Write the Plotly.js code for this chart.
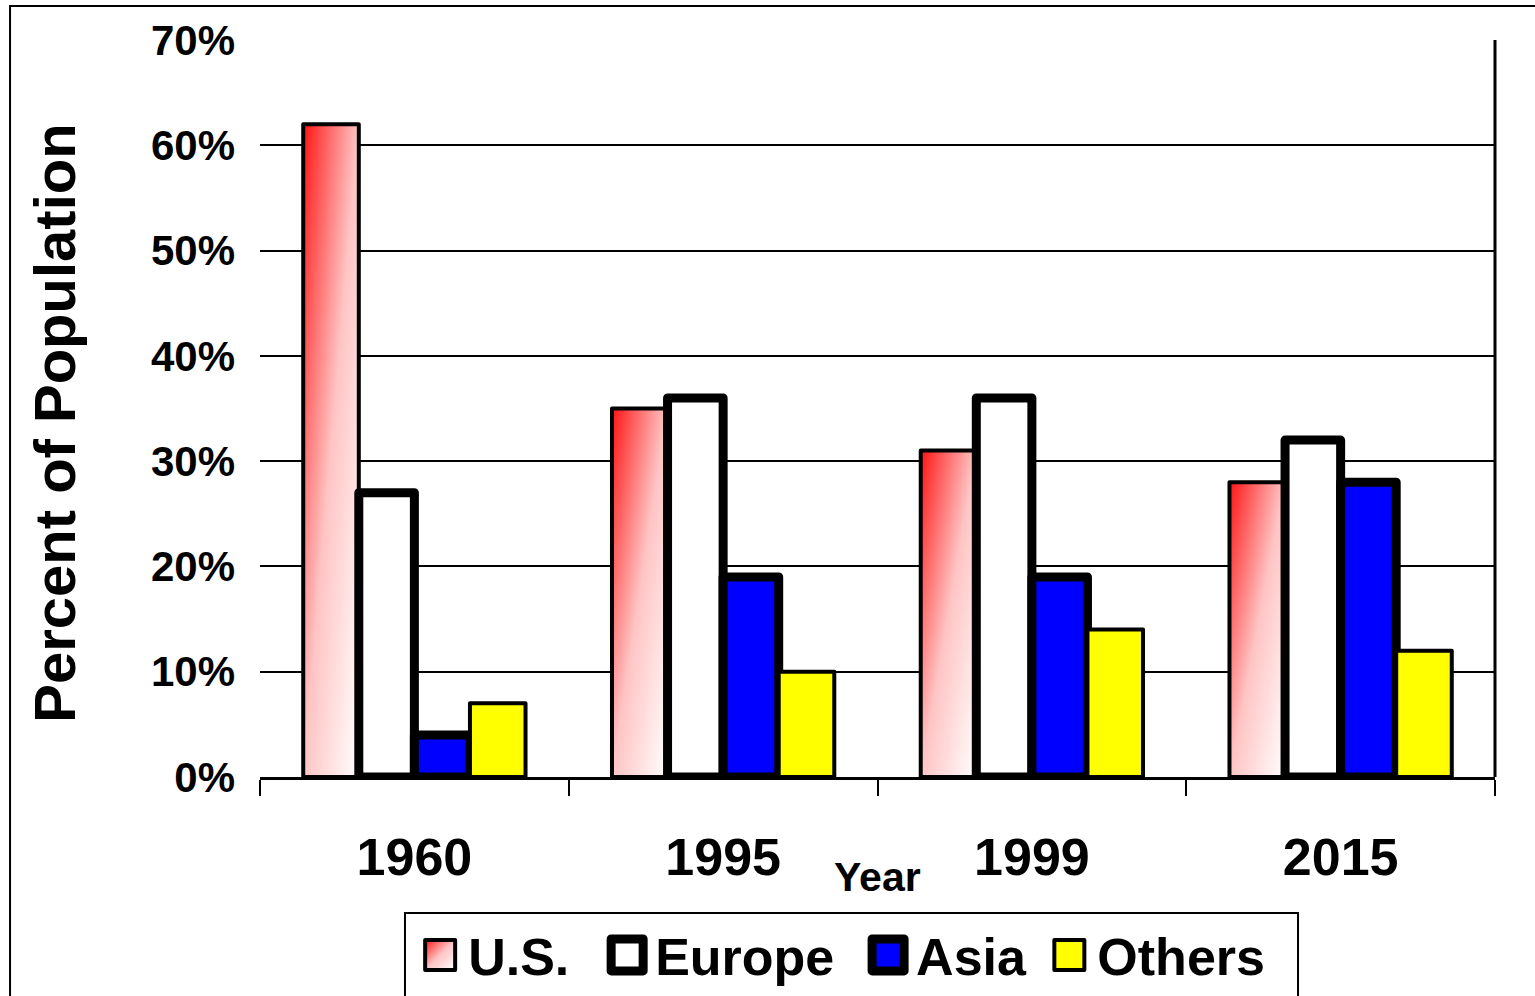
<!DOCTYPE html>
<html><head><meta charset="utf-8">
<script src="https://cdn.plot.ly/plotly-3.0.1.min.js"></script>
<style>html,body{margin:0;padding:0;background:#fff;} #chart{width:1535px;height:996px;}</style>
</head><body>
<svg width="0" height="0" style="position:absolute;left:0;top:0">
<defs><linearGradient id="usGrad" x1="0" y1="0" x2="1" y2="1">
<stop offset="0" stop-color="#ff1414"/><stop offset="0.5" stop-color="#ffc4c4"/><stop offset="1" stop-color="#ffffff"/>
</linearGradient></defs></svg>
<div id="chart"></div>
<script>
const years = ['1960', '1995', '1999', '2015'];
const usValues = [62, 35, 31, 28];
const europeValues = [27, 36, 36, 32];
const asiaValues = [4, 19, 19, 28];
const othersValues = [7, 10, 14, 12];
const seriesNames = ['U.S.', 'Europe', 'Asia', 'Others'];
const yTickValues = [0, 10, 20, 30, 40, 50, 60, 70];
const yTickLabels = ['0%', '10%', '20%', '30%', '40%', '50%', '60%', '70%'];

const FONT = 'Liberation Sans, Arial, sans-serif';
const fills = ['#ff8080', '#ffffff', '#0000ff', '#ffff00'];
const lineWidths = [4, 9, 9, 4];
const legendPad = ['\u00a0\u2009', '\u2009\u2009', '\u2009', ''];
const valueSets = [usValues, europeValues, asiaValues, othersValues];

const traces = valueSets.map((vals, i) => ({
  type: 'bar',
  name: seriesNames[i] + legendPad[i],
  x: years,
  y: vals,
  marker: {color: fills[i], line: {color: '#000000', width: lineWidths[i]}},
  hoverinfo: 'none'
}));

const layout = {
  width: 1535, height: 996,
  paper_bgcolor: '#ffffff', plot_bgcolor: '#ffffff',
  margin: {l: 260, r: 40, t: 40, b: 219},
  barmode: 'group', bargap: 0.28, bargroupgap: 0,
  font: {family: FONT, color: '#000000'},
  showlegend: true,
  legend: {
    orientation: 'h', xref: 'container', yref: 'container',
    x: 0.2685, xanchor: 'left', y: 0.0817, yanchor: 'top',
    bgcolor: 'rgba(0,0,0,0)', borderwidth: 0, itemwidth: 46,
    font: {family: FONT, size: 52, weight: 'bold', color: '#000000'}
  },
  xaxis: {
    type: 'category', showgrid: false, showline: true, linecolor: '#000000', linewidth: 3,
    ticks: 'outside', tickson: 'boundaries', ticklen: 16, tickwidth: 2, tickcolor: '#000000',
    tickfont: {family: FONT, size: 52, weight: 'bold', color: '#000000'},
    ticklabelstandoff: 33, zeroline: false, fixedrange: true
  },
  yaxis: {
    range: [0, 70], tickvals: yTickValues, ticktext: yTickLabels,
    showgrid: true, gridcolor: '#000000', gridwidth: 2, zeroline: false, showline: false,
    ticks: '', ticklabelstandoff: 24,
    tickfont: {family: FONT, size: 42, weight: 'bold', color: '#000000'}, fixedrange: true
  },
  annotations: [
    {text: 'Percent of Population', xref: 'paper', yref: 'paper', x: -0.1664, y: 0.48,
     xanchor: 'center', yanchor: 'middle', textangle: -90, showarrow: false,
     font: {family: FONT, size: 58, weight: 'bold', color: '#000000'}},
    {text: 'Year', xref: 'paper', yref: 'paper', x: 0.5, y: -0.1357,
     xanchor: 'center', yanchor: 'middle', showarrow: false,
     font: {family: FONT, size: 41, weight: 'bold', color: '#000000'}}
  ],
  shapes: [
    {type: 'rect', xref: 'paper', yref: 'paper', x0: -0.2024, x1: 1.06, y0: -0.35, y1: 1.0461,
     line: {color: '#000000', width: 2}, fillcolor: 'rgba(0,0,0,0)', layer: 'below'},
    {type: 'line', xref: 'paper', yref: 'paper', x0: 1, x1: 1, y0: 0, y1: 1,
     line: {color: '#000000', width: 3}},
    {type: 'rect', xref: 'paper', yref: 'paper', x0: 0.1174, x1: 0.8405, y0: -0.32, y1: -0.1845,
     line: {color: '#000000', width: 2}, fillcolor: 'rgba(0,0,0,0)'}
  ]
};

function restyleMarks() {
  const barTraces = document.querySelectorAll('#chart .barlayer .trace.bars');
  if (barTraces.length) {
    barTraces[0].querySelectorAll('path').forEach(p => { p.style.fill = 'url(#usGrad)'; });
    barTraces.forEach(t => t.querySelectorAll('path').forEach(p => { p.style.strokeLinejoin = 'round'; }));
  }
  const legendTraces = document.querySelectorAll('#chart .legend .traces');
  legendTraces.forEach((t, i) => {
    const p = t.querySelector('.legendpoints path');
    if (!p) return;
    const h = (i === 1 || i === 2) ? 16 : 15;
    p.setAttribute('d', 'M' + h + ',' + h + 'H-' + h + 'V-' + h + 'H' + h + 'Z');
    p.style.strokeWidth = lineWidths[i] + 'px';
    p.style.strokeLinejoin = 'round';
    if (i === 0) p.style.fill = 'url(#usGrad)';
  });
}

const gd = document.getElementById('chart');
Plotly.newPlot(gd, traces, layout, {staticPlot: true, displayModeBar: false}).then(() => {
  restyleMarks();
  gd.on('plotly_afterplot', restyleMarks);
});
</script>
</body></html>
